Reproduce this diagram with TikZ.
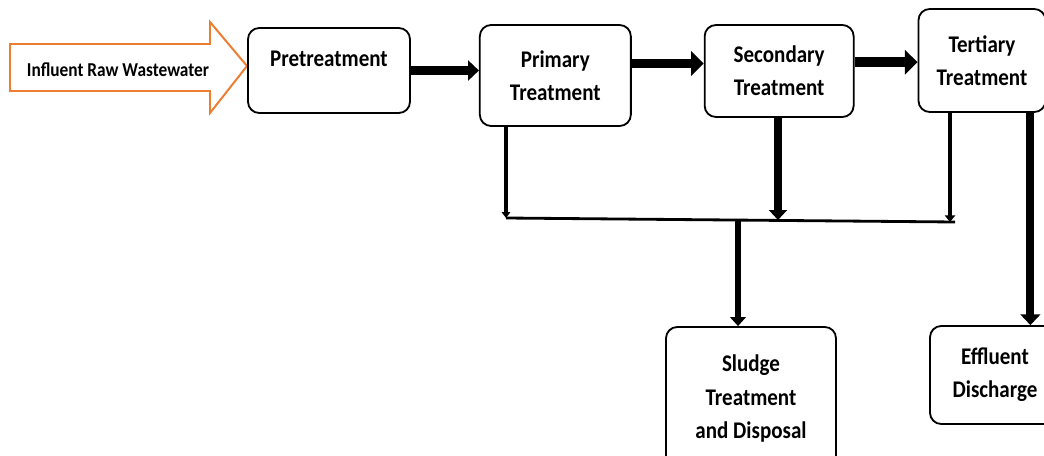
\documentclass[tikz,border=0pt]{standalone}
\usepackage{fontspec}
\setmainfont{Carlito}
\newfontfamily\narrowfont[FakeStretch=0.88]{Carlito}
\usepackage{xcolor}
\usepackage{tikz}
\usetikzlibrary{positioning,arrows.meta}

\definecolor{intake}{HTML}{ED7D31}

\begin{document}
\begin{tikzpicture}[
  box/.style={draw, line width=1.3pt, rounded corners=8pt, align=center, fill=white,
    font=\narrowfont\fontsize{17}{23.5}\selectfont\bfseries},
  pipe/.style={line width=#1, -{Triangle[length=2pt 1, width=1pt 2.3]}},
  pipe/.default=5pt
]
\path[use as bounding box, fill=white] (0,0) rectangle (26.1,-11.375);

% intake
\draw[intake, line width=1.4pt] (0.25,-1.1) -- (5.25,-1.1) -- (5.25,-0.55) -- (6.175,-1.65)
  -- (5.25,-2.825) -- (5.25,-2.275) -- (0.25,-2.275) -- cycle;
\node[font=\narrowfont\fontsize{14}{16}\selectfont\bfseries] (inflow) at (2.95,-1.75) {Influent Raw Wastewater};

% treatment train
\node[box, minimum width=4.05cm, minimum height=2.125cm, text depth=0.6cm] (pre) at (8.225,-1.7625) {Pretreatment};
\node[box, minimum width=3.775cm, minimum height=2.525cm, right=1.7cm of pre, yshift=-0.125cm] (prim) {Primary\\Treatment};
\node[box, minimum width=3.725cm, minimum height=2.3cm, right=1.8cm of prim, yshift=0.1125cm] (sec) {Secondary\\Treatment};
\node[box, minimum width=3.175cm, minimum height=2.575cm, right=1.575cm of sec, yshift=0.2625cm] (ter) {Tertiary\\Treatment};
\node[box, minimum width=4.25cm, minimum height=3.575cm] (sludge) at (18.775,-9.9625) {Sludge\\Treatment\\and Disposal};
\node[box, minimum width=3.25cm, minimum height=2.45cm] (eff) at (24.875,-9.375) {Effluent\\Discharge};

\draw[pipe=5.7pt] (pre.east) -- (pre.east -| prim.west);
\draw[pipe=7pt] ([yshift=0.3cm]prim.east) -- ([yshift=0.3cm]prim.east -| sec.west);
\draw[pipe=7pt] ([yshift=0.22cm]sec.east) -- ([yshift=0.22cm]sec.east -| ter.west);

% sludge collector
\coordinate (inP) at (12.65,-5.45);
\coordinate (inS) at (19.45,-5.5);
\coordinate (inT) at (23.75,-5.55);
\coordinate (busR) at (23.875,-5.55);
\coordinate (outS) at (18.45,-5.49);
\draw[line width=2pt] (inP) -- (busR);
\draw[pipe=2.2pt] (inP |- prim.south) -- (inP);
\draw[pipe=5pt] (inS |- sec.south) -- (inS);
\draw[pipe=2.8pt] (inT |- ter.south) -- (inT);
\draw[pipe=4.3pt] (outS) -- (outS |- sludge.north);

% effluent
\draw[pipe=5.7pt] ([xshift=1.21cm]ter.south) -- ([xshift=1.21cm]ter.south |- eff.north);
\end{tikzpicture}
\end{document}
